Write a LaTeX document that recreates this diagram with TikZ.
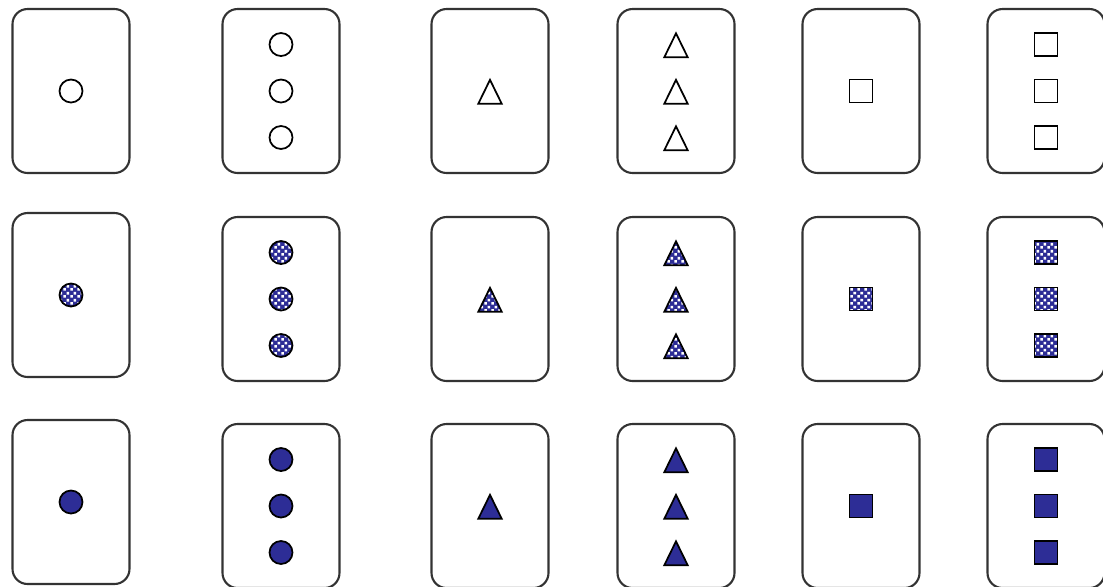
\documentclass[tikz,border=0pt]{standalone}
\usetikzlibrary{shapes.geometric,patterns.meta}

\definecolor{bleu}{RGB}{45,45,150}

\tikzdeclarepattern{
  name=points,
  type=uncolored,
  bounding box={(0,0) and (4pt,4pt)},
  tile size={(4pt,4pt)},
  code={
    \fill (0.2pt,0.2pt) rectangle (1.8pt,1.8pt);
    \fill (2.2pt,2.2pt) rectangle (3.8pt,3.8pt);
  }
}

\tikzset{
  carte/.style={draw=black!80, line width=1.2pt, rounded corners=0.3cm,
    minimum width=2.34cm, minimum height=3.28cm},
  motif/.style={draw=black, line width=1pt, inner sep=0pt},
  rond/.style={motif, circle, minimum size=0.46cm},
  carre/.style={motif, rectangle, minimum size=0.46cm},
  tri/.style={motif, isosceles triangle, shape border rotate=90,
    isosceles triangle stretches=true, minimum width=0.47cm, minimum height=0.48cm,
    yshift=-0.11cm},
  vide/.style={fill=white},
  damier/.style={preaction={fill=bleu}, pattern=points, pattern color=white},
  plein/.style={fill=bleu}
}

\begin{document}
\begin{tikzpicture}[x=0.02cm, y=-0.02cm]

\useasboundingbox (0,0) rectangle (1103,586);

\node[carte] (c11) at (71,91) {};
\node[carte] (c12) at (281,91) {};
\node[carte] (c13) at (490,91) {};
\node[carte] (c14) at (676,91) {};
\node[carte] (c15) at (861,91) {};
\node[carte] (c16) at (1046,91) {};

\node[carte] (c21) at (71,295) {};
\node[carte] (c22) at (281,299) {};
\node[carte] (c23) at (490,299) {};
\node[carte] (c24) at (676,299) {};
\node[carte] (c25) at (861,299) {};
\node[carte] (c26) at (1046,299) {};

\node[carte] (c31) at (71,502) {};
\node[carte] (c32) at (281,506) {};
\node[carte] (c33) at (490,506) {};
\node[carte] (c34) at (676,506) {};
\node[carte] (c35) at (861,506) {};
\node[carte] (c36) at (1046,506) {};

\node[rond,vide] (r11) at (c11) {};
\node[rond,vide] (r12a) at ([yshift=0.93cm]c12) {};
\node[rond,vide] (r12b) at (c12) {};
\node[rond,vide] (r12c) at ([yshift=-0.93cm]c12) {};
\node[tri,vide] (t13) at (c13) {};
\node[tri,vide] (t14a) at ([yshift=0.93cm]c14) {};
\node[tri,vide] (t14b) at (c14) {};
\node[tri,vide] (t14c) at ([yshift=-0.93cm]c14) {};
\node[carre,vide] (q15) at (c15) {};
\node[carre,vide] (q16a) at ([yshift=0.93cm]c16) {};
\node[carre,vide] (q16b) at (c16) {};
\node[carre,vide] (q16c) at ([yshift=-0.93cm]c16) {};

\node[rond,damier] (r21) at (c21) {};
\node[rond,damier] (r22a) at ([yshift=0.93cm]c22) {};
\node[rond,damier] (r22b) at (c22) {};
\node[rond,damier] (r22c) at ([yshift=-0.93cm]c22) {};
\node[tri,damier] (t23) at (c23) {};
\node[tri,damier] (t24a) at ([yshift=0.93cm]c24) {};
\node[tri,damier] (t24b) at (c24) {};
\node[tri,damier] (t24c) at ([yshift=-0.93cm]c24) {};
\node[carre,damier] (q25) at (c25) {};
\node[carre,damier] (q26a) at ([yshift=0.93cm]c26) {};
\node[carre,damier] (q26b) at (c26) {};
\node[carre,damier] (q26c) at ([yshift=-0.93cm]c26) {};

\node[rond,plein] (r31) at (c31) {};
\node[rond,plein] (r32a) at ([yshift=0.93cm]c32) {};
\node[rond,plein] (r32b) at (c32) {};
\node[rond,plein] (r32c) at ([yshift=-0.93cm]c32) {};
\node[tri,plein] (t33) at (c33) {};
\node[tri,plein] (t34a) at ([yshift=0.93cm]c34) {};
\node[tri,plein] (t34b) at (c34) {};
\node[tri,plein] (t34c) at ([yshift=-0.93cm]c34) {};
\node[carre,plein] (q35) at (c35) {};
\node[carre,plein] (q36a) at ([yshift=0.93cm]c36) {};
\node[carre,plein] (q36b) at (c36) {};
\node[carre,plein] (q36c) at ([yshift=-0.93cm]c36) {};

\end{tikzpicture}
\end{document}
